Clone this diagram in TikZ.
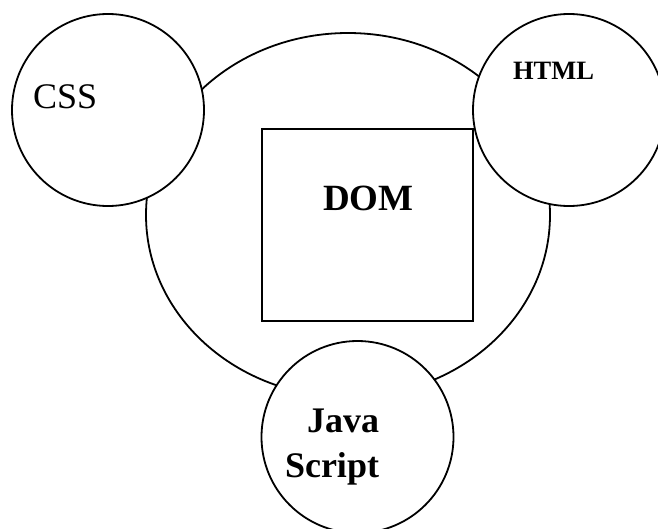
\documentclass[tikz,border=0pt]{standalone}
\usepackage{fontspec}
\setmainfont{Liberation Serif}
\usetikzlibrary{shapes.geometric}
\tikzset{
	bubble/.style={circle, draw, fill=white, minimum size=192pt, inner sep=0pt},
	word/.style={inner sep=0pt, outer sep=0pt}
}
\begin{document}
\begin{tikzpicture}[x=1pt,y=-1pt,line width=1.8pt]
	\clip (0,0) rectangle (658,528);
	\fill[white] (0,0) rectangle (658,528);
	\node[ellipse, draw, minimum width=404pt, minimum height=364pt] (web) at (348,215) {};
	\node[rectangle, draw, line width=1.5pt, minimum width=211pt, minimum height=192pt] (domBox) at (367.5,225) {};
	\node[bubble] (cssBall) at (108,110) {};
	\node[bubble] (htmlBall) at (569,110) {};
	\node[bubble] (jsBall) at (357.5,437) {};
	\node[word, anchor=base west] (cssText) at (33,108) {\fontsize{36}{43}\selectfont CSS};
	\node[word, anchor=base west] (htmlText) at (513,79) {\fontsize{26.5}{32}\selectfont\bfseries HTML};
	\node[word, anchor=base west] (domText) at (323,210) {\fontsize{37}{44}\selectfont\bfseries DOM};
	\node[word, anchor=base east, align=right, font=\fontsize{36}{45}\selectfont\bfseries] (jsText) at (379,477) {Java\\Script};
\end{tikzpicture}
\end{document}
